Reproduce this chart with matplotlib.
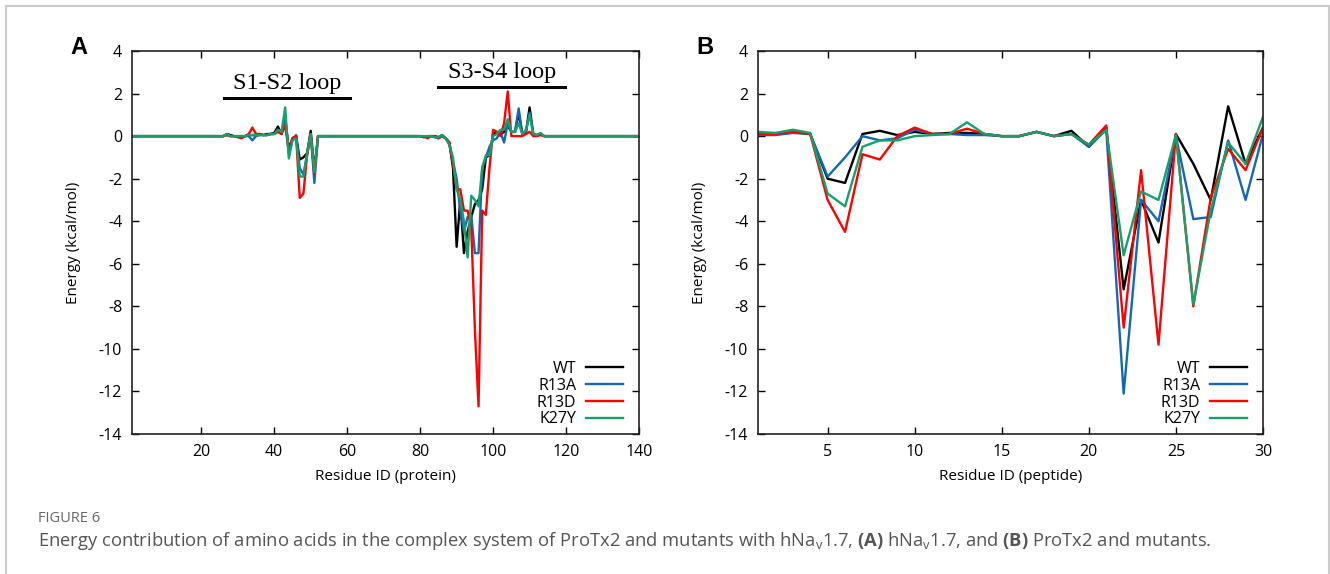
import numpy as np
import matplotlib
matplotlib.use("Agg")
import matplotlib.pyplot as plt
from matplotlib.patches import Rectangle

plt.rcParams['font.family'] = ['Open Sans', 'DejaVu Sans']
plt.rcParams['axes.unicode_minus'] = False
plt.rcParams['mathtext.fontset'] = 'custom'
plt.rcParams['mathtext.rm'] = 'Open Sans'
plt.rcParams['mathtext.bf'] = 'Open Sans:bold'

series = ['WT', 'R13A', 'R13D', 'K27Y']
colors = ['#000000', '#1367b8', '#ff0000', '#16a06a']

# panel A (protein residues 1..140), only two windows are non-zero
res_win1 = list(range(26, 54))
wt_win1 = [0.0, 0.1, 0.05, 0.0, 0.0, 0.0, 0.0, 0.05, 0.05, 0.05, 0.1, 0.05, 0.1, 0.1,
           0.15, 0.45, 0.1, 0.8, -0.6, -0.1, 0.0, -1.1, -1.0, -0.8, 0.25, -1.6, 0.0, 0.0]
r13a_win1 = [0.0, 0.05, 0.0, 0.0, 0.0, 0.0, 0.0, 0.0, -0.2, 0.0, 0.05, 0.05, 0.05, 0.1,
             0.1, 0.3, 0.1, 0.9, -0.8, -0.2, 0.05, -1.5, -1.8, -0.9, 0.1, -2.2, 0.0, 0.0]
r13d_win1 = [0.0, 0.05, 0.0, 0.0, -0.05, -0.1, 0.0, 0.1, 0.4, 0.1, 0.1, 0.05, 0.05, 0.1,
             0.1, 0.2, 0.1, 0.5, -0.7, -0.1, 0.0, -2.9, -2.7, -0.9, 0.1, -1.8, 0.0, 0.0]
k27y_win1 = [0.0, 0.1, 0.0, 0.0, 0.0, 0.0, 0.0, 0.05, 0.05, 0.05, 0.05, 0.05, 0.05, 0.1,
             0.1, 0.3, 0.2, 1.35, -1.05, -0.2, -0.1, -1.9, -1.9, -0.8, 0.1, -1.7, 0.0, 0.0]

res_win2 = list(range(80, 116))
wt_win2 = [0.0, -0.05, 0.0, 0.0, 0.0, -0.05, 0.05, -0.1, -0.3, -1.5, -5.2, -3.0, -5.5, -4.5,
           -3.8, -3.2, -3.0, -2.5, -1.0, -0.9, 0.1, 0.2, 0.1, 0.2, 0.5, 0.2, 0.2, 1.1,
           0.1, 0.2, 1.35, 0.1, 0.05, 0.1, 0.0, 0.0]
r13a_win2 = [0.0, -0.05, 0.0, 0.0, -0.05, -0.1, 0.0, -0.1, -0.4, -1.2, -2.0, -3.5, -4.5, -3.8,
             -3.7, -5.5, -5.5, -1.5, -1.0, -0.5, -0.2, -0.1, 0.2, -0.3, 0.6, 0.2, 0.2, 1.3,
             0.1, 0.2, 1.1, 0.1, 0.05, 0.1, 0.0, 0.0]
r13d_win2 = [0.0, 0.0, -0.1, 0.0, 0.0, -0.1, 0.0, -0.1, -0.3, -1.3, -2.5, -2.5, -3.5, -3.5,
             -4.3, -9.1, -12.7, -3.5, -3.7, -1.5, 0.3, 0.2, 0.0, 0.6, 2.1, 0.0, 0.0, 0.0,
             0.0, 0.1, 0.2, 0.0, 0.0, 0.05, 0.0, 0.0]
k27y_win2 = [0.0, 0.0, 0.0, 0.0, -0.05, -0.05, 0.05, -0.1, -0.4, -1.0, -2.5, -3.0, -4.0, -5.7,
             -2.8, -3.0, -3.3, -1.5, -0.9, -0.9, 0.0, 0.1, 0.3, 0.3, 0.8, 0.2, 0.2, 0.6,
             0.1, 0.3, 1.0, 0.1, 0.05, 0.15, 0.0, 0.0]

# panel B (peptide residues 1..30)
res_b = list(range(1, 31))
wt_b = [0.05, 0.1, 0.2, 0.1, -2.0, -2.2, 0.1, 0.25, 0.05, 0.2, 0.1, 0.15, 0.15, 0.1, 0.0,
        0.0, 0.2, 0.0, 0.25, -0.5, 0.4, -7.2, -3.0, -5.0, 0.1, -1.3, -3.0, 1.4, -1.3, 0.4]
r13a_b = [0.05, 0.05, 0.15, 0.1, -1.9, -1.0, 0.0, -0.2, -0.1, 0.3, 0.1, 0.1, 0.05, 0.05, 0.0,
          0.0, 0.2, 0.0, 0.1, -0.5, 0.3, -12.1, -3.0, -4.0, 0.0, -3.9, -3.8, -0.2, -3.0, 0.1]
r13d_b = [0.1, 0.1, 0.2, 0.1, -3.0, -4.5, -0.85, -1.1, 0.0, 0.4, 0.1, 0.1, 0.35, 0.1, 0.0,
          0.0, 0.2, 0.0, 0.1, -0.4, 0.5, -9.0, -1.6, -9.8, 0.1, -8.0, -2.9, -0.6, -1.6, 0.4]
k27y_b = [0.2, 0.15, 0.3, 0.15, -2.7, -3.3, -0.5, -0.2, -0.2, 0.0, 0.05, 0.1, 0.65, 0.1, 0.0,
          0.0, 0.2, 0.0, 0.1, -0.4, 0.3, -5.6, -2.6, -3.0, 0.05, -7.9, -3.5, -0.3, -1.3, 0.9]

loop_labels = ['S1-S2 loop', 'S3-S4 loop']
loop_spans = [(26.3, 60.8), (85.0, 119.7)]
loop_bar_y = [1.8, 2.3]

res_a = np.arange(1, 141)
data_a = []
for w1, w2 in [(wt_win1, wt_win2), (r13a_win1, r13a_win2),
               (r13d_win1, r13d_win2), (k27y_win1, k27y_win2)]:
    y = np.zeros(len(res_a))
    y[np.array(res_win1) - 1] = w1
    y[np.array(res_win2) - 1] = w2
    data_a.append(y)
data_b = [wt_b, r13a_b, r13d_b, k27y_b]

fig = plt.figure(figsize=(13.3, 5.74), dpi=100)
ax_a = fig.add_axes([0.0992, 0.2439, 0.3813, 0.6672])
ax_b = fig.add_axes([0.5699, 0.2439, 0.3797, 0.6672])


def style(ax, xlabel):
    ax.set_ylim(-14, 4)
    ax.set_yticks(range(-14, 5, 2))
    ax.tick_params(direction='in', top=True, right=True, length=5, width=1,
                   labelsize=11.5, pad=7)
    for s in ax.spines.values():
        s.set_linewidth(1.2)
        s.set_color('#222222')
    ax.set_xlabel(xlabel, fontsize=11, labelpad=7)
    ax.set_ylabel('Energy (kcal/mol)', fontsize=11, labelpad=13)
    leg = ax.legend(loc='lower right', frameon=False, markerfirst=False, fontsize=11.5,
                    handlelength=2.3, labelspacing=0.05, handletextpad=0.6,
                    bbox_to_anchor=(0.99, -0.012), borderaxespad=0.3)
    return leg


for y, name, c in zip(data_a, series, colors):
    ax_a.plot(res_a, y, color=c, lw=1.7, label=name)
ax_a.set_xlim(1, 140)
ax_a.set_xticks(range(20, 141, 20))
style(ax_a, 'Residue ID (protein)')

for (x0, x1), yb, lab in zip(loop_spans, loop_bar_y, loop_labels):
    ax_a.plot([x0, x1], [yb, yb], color='black', lw=2.2)
    ax_a.text((x0 + x1) / 2, yb + 0.2, lab, ha='center', va='bottom',
              family='Liberation Serif', fontsize=17.5)

for y, name, c in zip(data_b, series, colors):
    ax_b.plot(res_b, y, color=c, lw=1.7, label=name)
ax_b.set_xlim(1, 30)
ax_b.set_xticks(range(5, 31, 5))
style(ax_b, 'Residue ID (peptide)')

fig.text(79 / 1330, 1 - 48 / 574, 'A', family='Liberation Sans', weight='bold',
         fontsize=17, ha='center', va='center')
fig.text(705 / 1330, 1 - 48 / 574, 'B', family='Liberation Sans', weight='bold',
         fontsize=17, ha='center', va='center')

fig.text(38 / 1330, 1 - 518 / 574, 'FIGURE 6', fontsize=10.5, color='#666666', va='center')
fig.text(38 / 1330, 1 - 541 / 574,
         r'Energy contribution of amino acids in the complex system of ProTx2 and mutants with '
         r'hNa$_\mathregular{v}$1.7, $\mathbf{(A)}$ hNa$_\mathregular{v}$1.7, and '
         r'$\mathbf{(B)}$ ProTx2 and mutants.',
         fontsize=13.2, color='#555555', va='center')

fig.add_artist(Rectangle((6 / 1330, -0.05), 1322.5 / 1330, 1.05 - 5.5 / 574,
                         transform=fig.transFigure, fill=False, edgecolor='#cccccc', lw=1.5))

fig.savefig('out.png', dpi=100)
